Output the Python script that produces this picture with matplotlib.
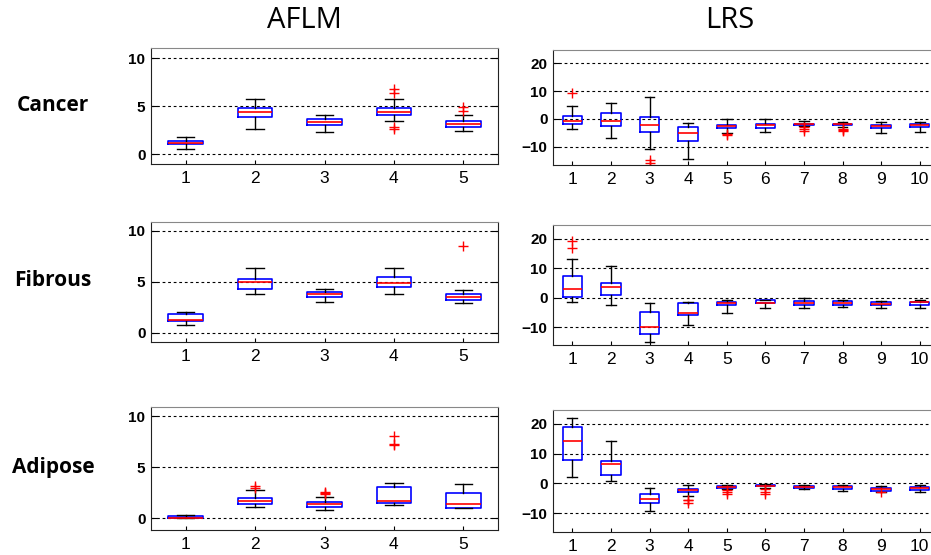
import matplotlib
matplotlib.use("Agg")
import matplotlib.pyplot as plt

W, H = 931, 555

# (whisker low, q1, median, q3, whisker high) per feature
cancer_aflm = [(0.52, 1.04, 1.22, 1.39, 1.84), (2.6, 3.92, 4.41, 4.79, 5.73),
               (2.29, 3.06, 3.37, 3.72, 4.13), (3.47, 4.1, 4.41, 4.79, 5.73),
               (2.4, 2.88, 3.13, 3.44, 4.1)]
cancer_aflm_out = [[], [], [], [6.8, 6.4, 2.9, 2.65], [4.9, 4.5]]

fibrous_aflm = [(0.72, 1.18, 1.25, 1.78, 1.97), (3.75, 4.28, 5.0, 5.3, 6.3),
                (3.03, 3.49, 3.75, 4.0, 4.28), (3.75, 4.47, 4.84, 5.43, 6.3),
                (2.93, 3.22, 3.49, 3.75, 4.21)]
fibrous_aflm_out = [[], [], [], [], [8.52]]

adipose_aflm = [(0.0, 0.03, 0.07, 0.26, 0.33), (1.07, 1.37, 1.69, 1.95, 2.8),
                (0.81, 1.07, 1.37, 1.56, 2.08), (1.3, 1.53, 1.69, 3.09, 3.49),
                (0.98, 1.04, 1.37, 2.5, 3.32)]
adipose_aflm_out = [[], [3.0, 3.15], [2.35, 2.5, 2.6], [8.1, 7.3, 7.2], []]

cancer_lrs = [(-3.7, -1.8, -0.72, 1.08, 4.8), (-6.7, -2.6, -0.84, 2.0, 5.9),
              (-10.9, -4.7, -2.3, 0.7, 7.8), (-14.5, -8.0, -5.1, -2.9, -1.3),
              (-5.1, -3.1, -2.5, -2.2, -0.1), (-4.7, -3.1, -2.3, -1.8, 0.0),
              (-2.6, -2.3, -2.0, -1.9, -0.8), (-3.0, -2.3, -2.0, -1.8, -1.2),
              (-5.1, -3.2, -2.4, -2.2, -1.2), (-4.7, -3.0, -2.3, -1.8, -1.2)]
cancer_lrs_out = [[9.2], [], [-14.7, -15.7], [], [-5.7, -5.3],
                  [], [-3.0, -3.7, -4.5], [-3.7, -4.0, -4.5], [], []]

fibrous_lrs = [(-1.5, 0.34, 2.84, 7.4, 13.0), (-2.6, 0.9, 3.75, 5.1, 10.6),
               (-14.9, -12.2, -10.0, -4.7, -1.8), (-9.3, -5.7, -5.3, -1.9, -1.6),
               (-5.3, -2.6, -1.8, -1.5, -0.7), (-3.6, -1.8, -1.7, -0.9, -0.7),
               (-3.6, -2.5, -1.9, -1.0, -0.1), (-3.3, -2.5, -1.9, -1.0, -0.7),
               (-3.6, -2.6, -2.0, -1.5, -1.0), (-3.6, -2.5, -1.6, -1.5, -0.7)]
fibrous_lrs_out = [[16.7, 19.2], [], [], [], [], [], [], [], [], []]

adipose_lrs = [(2.2, 7.8, 14.2, 18.9, 21.9), (0.9, 2.7, 6.5, 7.6, 14.2),
               (-9.3, -6.5, -5.4, -3.7, -1.5), (-4.3, -2.8, -2.4, -1.8, -0.7),
               (-1.9, -1.7, -1.2, -0.9, -0.7), (-1.7, -1.0, -0.8, -0.6, -0.3),
               (-1.9, -1.7, -1.2, -0.9, -0.7), (-2.5, -1.8, -1.3, -1.0, -0.7),
               (-3.0, -2.6, -2.0, -1.7, -1.0), (-2.8, -2.1, -1.6, -1.2, -0.7)]
adipose_lrs_out = [[], [], [], [-5.5, -5.7, -6.7], [-2.2, -2.8, -3.5],
                   [-2.0, -2.8, -3.5], [], [], [-3.0], []]

col_titles = ["AFLM", "LRS"]
row_titles = ["Cancer", "Fibrous", "Adipose"]

panels = [
    [(cancer_aflm, cancer_aflm_out), (cancer_lrs, cancer_lrs_out)],
    [(fibrous_aflm, fibrous_aflm_out), (fibrous_lrs, fibrous_lrs_out)],
    [(adipose_aflm, adipose_aflm_out), (adipose_lrs, adipose_lrs_out)],
]

# pixel boxes (left, top, right, bottom) of each axes
boxes = [
    [(151, 48, 498, 164), (553, 50, 939, 165)],
    [(151, 222, 498, 342), (553, 225, 939, 345)],
    [(151, 407, 498, 530), (553, 410, 939, 532)],
]
ylims = [
    [(-1.0, 11.07), (-16.6, 24.8)],
    [(-0.93, 10.86), (-16.0, 24.6)],
    [(-1.15, 10.9), (-16.4, 24.7)],
]
yticks = [[0, 5, 10], [-10, 0, 10, 20]]

fig = plt.figure(figsize=(W / 100, H / 100), dpi=100)

for r in range(3):
    for c in range(2):
        stats_in, outs = panels[r][c]
        l, t, rr, b = boxes[r][c]
        ax = fig.add_axes([l / W, 1 - b / H, (rr - l) / W, (b - t) / H])
        stats = []
        for s, o in zip(stats_in, outs):
            stats.append({"whislo": s[0], "q1": s[1], "med": s[2],
                          "q3": s[3], "whishi": s[4], "fliers": o})
        n = len(stats)
        ax.bxp(stats, positions=range(1, n + 1), widths=0.5,
               capwidths=0.25, showfliers=True,
               boxprops=dict(color="#0000ff", linewidth=1.2),
               medianprops=dict(color="#ff0000", linewidth=1.2),
               whiskerprops=dict(color="black", linewidth=1.0),
               capprops=dict(color="black", linewidth=1.0),
               flierprops=dict(marker="+", markeredgecolor="#ff0000",
                               markersize=7, markeredgewidth=1.0))
        ax.set_xlim(0.5, n + 0.5)
        ax.set_ylim(*ylims[r][c])
        ax.set_yticks(yticks[c])
        ax.set_xticks(range(1, n + 1))
        ax.set_xticklabels([str(i) for i in range(1, n + 1)],
                           fontsize=12.5, family="Liberation Sans")
        for lab in ax.get_yticklabels():
            lab.set_fontsize(11)
            lab.set_fontweight("bold")
            lab.set_family("Liberation Sans")
        ax.tick_params(axis="y", direction="in", length=4, right=True, pad=4)
        ax.tick_params(axis="x", direction="in", length=3, pad=5)
        ax.yaxis.grid(True, color="black", linestyle=(0, (2.5, 2.5)),
                      linewidth=0.8)
        ax.set_axisbelow(True)
        for side in ["left", "bottom", "right"]:
            ax.spines[side].set_color("#222222")
        ax.spines["top"].set_color("#888888")

fig.text(304 / W, 1 - 20 / H, col_titles[0], ha="center", va="center",
         fontsize=21, family="Open Sans")
fig.text(730 / W, 1 - 20 / H, col_titles[1], ha="center", va="center",
         fontsize=21, family="Open Sans")
row_y = [105, 281, 468]
for name, y in zip(row_titles, row_y):
    fig.text(53 / W, 1 - y / H, name, ha="center", va="center",
             fontsize=15, fontweight="bold", family="Open Sans")

fig.savefig("out.png", dpi=100)
